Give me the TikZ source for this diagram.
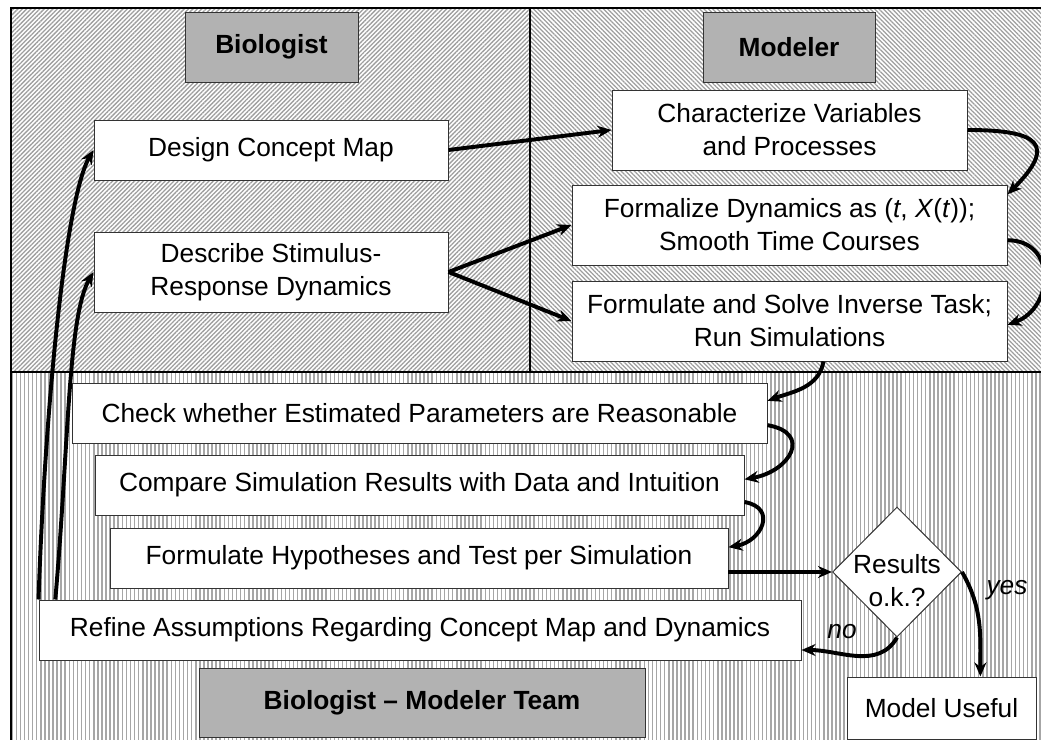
\documentclass[tikz,border=0pt]{standalone}
\usepackage{fontspec}
\setmainfont{Liberation Sans}
\usetikzlibrary{patterns.meta,shapes.geometric,arrows.meta}

\tikzset{
  wbox/.style={draw=black!80, line width=0.7pt, fill=white, align=center, inner sep=0pt},
  hbox/.style={wbox, fill=black!30, font=\fontsize{18.7}{23.5}\selectfont\bfseries},
  sz/.style 2 args={minimum width=#1*0.025cm, minimum height=#2*0.025cm},
  link/.style={line width=2.8pt, -{Stealth[length=10pt,width=8.5pt]}},
  divide/.style={line width=2pt},
  lbl/.style={font=\fontsize{18.7}{23.5}\selectfont\itshape, inner sep=0pt}
}

\begin{document}
\begin{tikzpicture}[x=0.025cm, y=-0.025cm, font=\fontsize{18.7}{23.5}\selectfont]
	\useasboundingbox (0,0) rectangle (1041,740);
	% hatched panels
	\fill[white] (11,8) rectangle (1041,740);
	\path[pattern={Lines[angle=45, distance=2.2pt, line width=0.9pt]}, pattern color=black!38] (11,8) rectangle (530,372);
	\path[pattern={Lines[angle=-45, distance=2.2pt, line width=0.9pt]}, pattern color=black!38] (530,8) rectangle (1041,372);
	\path[pattern={Lines[angle=90, distance=2.9pt, line width=1.1pt]}, pattern color=black!35] (11,372) rectangle (1041,740);
	\draw[divide] (11,740) -- (11,8) -- (1041,8);
	\draw[divide] (530,8) -- (530,372);
	\draw[divide] (11,372) -- (1041,372);

	% boxes
	\node[hbox, sz={173}{70}] (biol) at (271.5,47) {Biologist};
	\node[hbox, sz={172}{70}] (model) at (789,47) {Modeler};
	\node[wbox, sz={354}{60}] (concept) at (271,150) {Design Concept Map};
	\node[wbox, sz={354}{80}] (stimulus) at (271,272) {Describe Stimulus-\\Response Dynamics};
	\node[wbox, sz={355}{80}] (charact) at (789.5,130) {Characterize Variables\\and Processes};
	\node[wbox, sz={435}{80}] (formalize) at (789.5,225) {Formalize Dynamics as (\textit{t}, \textit{X}(\textit{t}));\\Smooth Time Courses};
	\node[wbox, sz={435}{80}] (inverse) at (789.5,321) {Formulate and Solve Inverse Task;\\Run Simulations};
	\node[wbox, sz={695}{60}] (check) at (419.5,413) {Check whether Estimated Parameters are Reasonable};
	\node[wbox, sz={649}{60}] (compare) at (419.5,485) {Compare Simulation Results with Data and Intuition};
	\node[wbox, sz={618}{60}] (hypo) at (419,558) {Formulate Hypotheses and Test per Simulation};
	\node[wbox, sz={762}{60}] (refine) at (420,630) {Refine Assumptions Regarding Concept Map and Dynamics};
	\node[hbox, sz={446}{69}] (team) at (422,702.5) {Biologist \textendash\ Modeler Team};
	\node[wbox, diamond, aspect=1, sz={129}{130}] (decide) at (897,572) {};
	\node[align=center, inner sep=0pt] (decidetxt) at (897,581) {Results\\o.k.?};
	\node[wbox, sz={189}{62}] (useful) at (941.5,708) {Model Useful};
	\node[lbl] (yes) at (1007,590) {yes};
	\node[lbl] (no) at (842,632) {no};

	% arrows
	\draw[link] (concept.east) -- (charact.west);
	\draw[link] (stimulus.east) -- (formalize.west);
	\draw[link] (stimulus.east) -- (inverse.west);
	\draw[link] (charact.east) to[out=0, in=45, looseness=2.4] (formalize.8);
	\draw[link] (formalize.-4) to[out=0, in=20, looseness=1.5] (inverse.-1);
	\draw[link] (inverse.-50) to[out=-100, in=20] (check.2);
	\draw[link] (check.-2) to[out=-10, in=10, looseness=2] (compare.1);
	\draw[link] (compare.-3) to[out=-10, in=10, looseness=1.8] (hypo.2);
	\draw[link] (hypo.east |- decide.west) -- (decide.west);
	\draw[link] (decide.east) to[out=-60, in=90] (useful.39);
	\draw[link] (decide.south) to[out=-120, in=0] (refine.-3);
	\draw[link] (refine.north west) to[out=88, in=240, out looseness=1.2, in looseness=0.3] (concept.west);
	\draw[link] ([xshift=0.42cm]refine.north west) to[out=85, in=240, out looseness=1.2, in looseness=0.4] (stimulus.west);
\end{tikzpicture}
\end{document}
